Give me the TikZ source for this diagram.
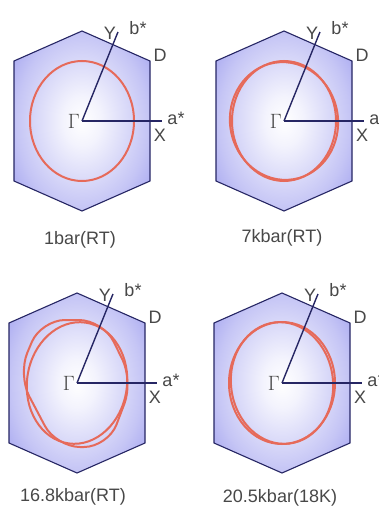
\documentclass[tikz,border=0pt]{standalone}
\usepackage{fontspec}
\setmainfont{Liberation Sans}
\usetikzlibrary{positioning}
\definecolor{bzfill}{RGB}{156,156,238}
\definecolor{bzedge}{RGB}{38,38,100}
\definecolor{fsred}{RGB}{230,106,90}
\definecolor{lblgray}{RGB}{72,72,72}
\pgfdeclareradialshading{bzshade}{\pgfpoint{0bp}{0bp}}{%
  color(0bp)=(white); color(7bp)=(white!88!bzfill);
  color(24bp)=(white!42!bzfill); color(36bp)=(bzfill); color(75bp)=(bzfill)}

\begin{document}
\begin{tikzpicture}[x=1pt, y=1pt,
        bz/.style={draw=bzedge, line width=1.1pt, shading=bzshade},
        axisline/.style={draw=bzedge, line width=1.4pt},
        fs/.style={draw=fsred, line width=2pt},
        lbl/.style={text=lblgray, font=\fontsize{18}{18}\selectfont, inner sep=0pt},
        gam/.style={text=lblgray, font=\fontsize{20}{20}\selectfont, inner sep=0pt},
        capt/.style={text=lblgray, font=\fontsize{18}{18}\selectfont, inner sep=0pt}]
        \clip (0,0) rectangle (378,-511);
        \fill[white] (0,0) rectangle (378,-511);
        \coordinate (c1) at (82,-121);
        \coordinate (c2) at (284,-121);
        \coordinate (c3) at (77,-383);
        \coordinate (c4) at (282,-383);
        % zone, axes and labels of each panel
        \foreach \n/\txt/\tx/\ty in {1/{1bar(RT)}/80/-240, 2/{7kbar(RT)}/282/-238,
                                     3/{16.8kbar(RT)}/73/-497, 4/{20.5kbar(18K)}/280/-498}{
            \begin{scope}[shift={(c\n)}]
                \shade[bz] (0,90) -- (68,60) -- (68,-60) -- (0,-90) -- (-68,-60) -- (-68,60) -- cycle;
                \coordinate (o\n) at (0,0);
                \coordinate (a\n) at (80,0);
                \coordinate (b\n) at (68:96);
                \node[gam, anchor=east] (g\n) at (-2,0) {$\Gamma$};
                \node[lbl] (y\n)  at (28,88)  {Y};
                \node[lbl] (bs\n) at (56,93)  {b*};
                \node[lbl] (d\n)  at (78,66)  {D};
                \node[lbl] (as\n) at (94,3)   {a*};
                \node[lbl] (x\n)  at (78,-14) {X};
            \end{scope}
            \node[capt] (cap\n) at (\tx,\ty) {\txt};
        }
        % Fermi surfaces
        \draw[fs] (c1) ellipse [x radius=52, y radius=60];
        \draw[fs] (c2) ellipse [x radius=52, y radius=60];
        \draw[fs, rotate around={9:(c2)}] (c2) ellipse [x radius=54, y radius=59];
        \draw[fs, rotate around={-8:(c3)}] (c3) ellipse [x radius=50, y radius=61];
        \draw[fs, rounded corners=24, shift={(c3)}] (-36,63) -- (26,63) -- (56,2)
            -- (31,-64) -- (-21,-64) -- (-59,8) -- cycle;
        \draw[fs] (c4) ellipse [x radius=53, y radius=61];
        \draw[fs, rotate around={7:(c4)}] (c4) ellipse [x radius=51, y radius=61];
        % reciprocal axes
        \foreach \n in {1,...,4}{
            \draw[axisline] (o\n) -- (a\n);
            \draw[axisline] (o\n) -- (b\n);
        }
    \end{tikzpicture}
\end{document}
